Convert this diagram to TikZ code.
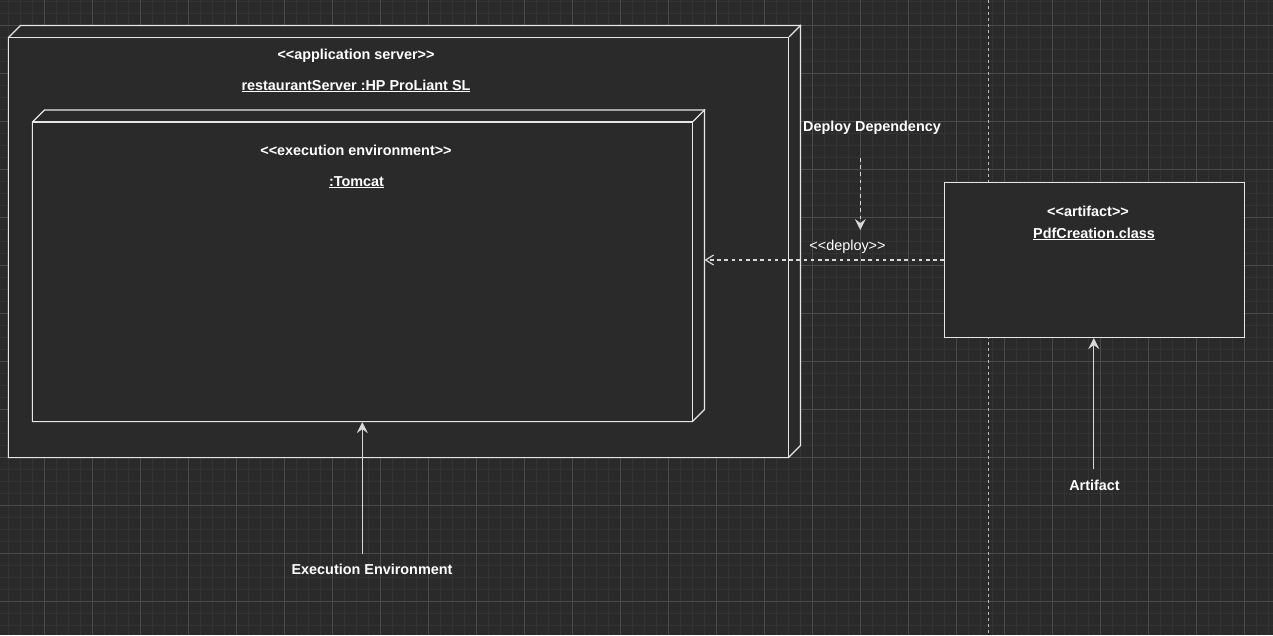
\documentclass[tikz,border=0pt]{standalone}
\usepackage{fontspec}
\setmainfont{Liberation Sans}
\usetikzlibrary{arrows.meta}
\definecolor{bgc}{HTML}{2A2A2A}
\definecolor{minorc}{HTML}{333333}
\definecolor{majorc}{HTML}{4A4A4A}
\definecolor{edgec}{HTML}{E6E6E6}
\definecolor{linkc}{HTML}{D8D8D8}
\definecolor{pagec}{HTML}{BBBBBB}
\newcommand\myul[1]{\setbox0\hbox{#1}\rlap{\rule[-2pt]{\wd0}{1.2pt}}\box0}
\newcommand\myLL{<\kern0pt<}
\newcommand\myGG{>\kern0pt>}
\tikzset{
  lbl/.style={text=white,font=\fontsize{14.4}{17}\selectfont\bfseries,inner sep=0pt,anchor=base},
  lblthin/.style={text=white,font=\fontsize{14.4}{17}\selectfont,inner sep=0pt,anchor=base},
  boxline/.style={draw=edgec,line width=1.2pt,fill=bgc,line join=miter},
  front/.style={draw=edgec,line width=1.2pt,fill=bgc,inner sep=0pt},
  solidarrow/.style={draw=linkc,line width=1.2pt,-{Stealth[length=11pt,width=11pt,inset=4pt]}},
  dasharrow/.style={draw=linkc,line width=1.2pt,dash pattern=on 3.6pt off 3.6pt,-{Stealth[length=11pt,width=11pt,inset=4pt]}},
  deployarrow/.style={draw=linkc,line width=1.2pt,dash pattern=on 3.6pt off 3.6pt,-{Straight Barb[length=8pt,width=10pt,line width=1.2pt]}}
}
\begin{document}
\begin{tikzpicture}[x=1pt,y=-1pt]
\useasboundingbox (0,0) rectangle (1273,635);
\fill[bgc] (0,0) rectangle (1273,635);
% grid
\foreach \i in {0,...,106} \draw[minorc,line width=1pt] (8.3+12*\i,0) -- (8.3+12*\i,635);
\foreach \j in {0,...,53} \draw[minorc,line width=1pt] (0,1.3+12*\j) -- (1273,1.3+12*\j);
\foreach \i in {0,...,26} \draw[majorc,line width=1pt] (44.3+48*\i,0) -- (44.3+48*\i,635);
\foreach \j in {0,...,13} \draw[majorc,line width=1pt] (0,25.3+48*\j) -- (1273,25.3+48*\j);
% page break line
\draw[pagec,line width=1pt,dash pattern=on 3pt off 3pt] (988.5,0) -- (988.5,635);

% application server node (3D)
\path[boxline] (8.5,457.5) -- (8.5,37.5) -- (20.5,25.5) -- (800.5,25.5) -- (800.5,445.5) -- (788.5,457.5) -- cycle;
\node[front,minimum width=780pt,minimum height=420pt] (server) at (398.5,247.5) {};
\draw[edgec,line width=1.2pt] (server.north east) -- ++(12,-12);

% execution environment node (3D)
\path[boxline] (32.5,421.5) -- (32.5,122) -- (44.5,110) -- (704.5,110) -- (704.5,409.5) -- (692.5,421.5) -- cycle;
\node[front,minimum width=660pt,minimum height=299.5pt] (tomcat) at (362.5,271.75) {};
\draw[edgec,line width=1.2pt] (tomcat.north east) -- ++(12,-12);

% artifact
\node[front,minimum width=300pt,minimum height=155pt] (artifact) at (1094.5,260) {};

% texts
\node[lbl] (t1) at (356,59) {\myLL application server\myGG};
\node[lbl] (t2) at (356,90) {\myul{restaurantServer :HP ProLiant SL}};
\node[lbl] (t3) at (356,155) {\myLL execution environment\myGG};
\node[lbl] (t4) at (356.5,186) {\myul{:Tomcat}};
\node[lbl] (t5) at (1088,216.7) {\myLL artifact\myGG};
\node[lbl] (t6) at (1094,238.3) {\myul{PdfCreation.class}};
\node[lbl] (dd) at (872,131.7) {Deploy Dependency};
\node[lblthin] (dep) at (847.5,250) {\myLL deploy\myGG};
\node[lbl] (ee) at (372,574.3) {Execution Environment};
\node[lbl] (art) at (1094.5,490) {Artifact};

% connectors
\coordinate (tomcatR) at (704.5,260);
\draw[deployarrow] (artifact.west) -- (tomcatR);
\coordinate (dd1) at (860.3,158);
\coordinate (dd2) at (860.3,230);
\draw[dasharrow] (dd1) -- (dd2);
\coordinate (ee1) at (362.3,554);
\draw[solidarrow] (ee1) -- (ee1 |- tomcat.south);
\coordinate (ar1) at (1093.8,469);
\draw[solidarrow] (ar1) -- (ar1 |- artifact.south);
\end{tikzpicture}
\end{document}
